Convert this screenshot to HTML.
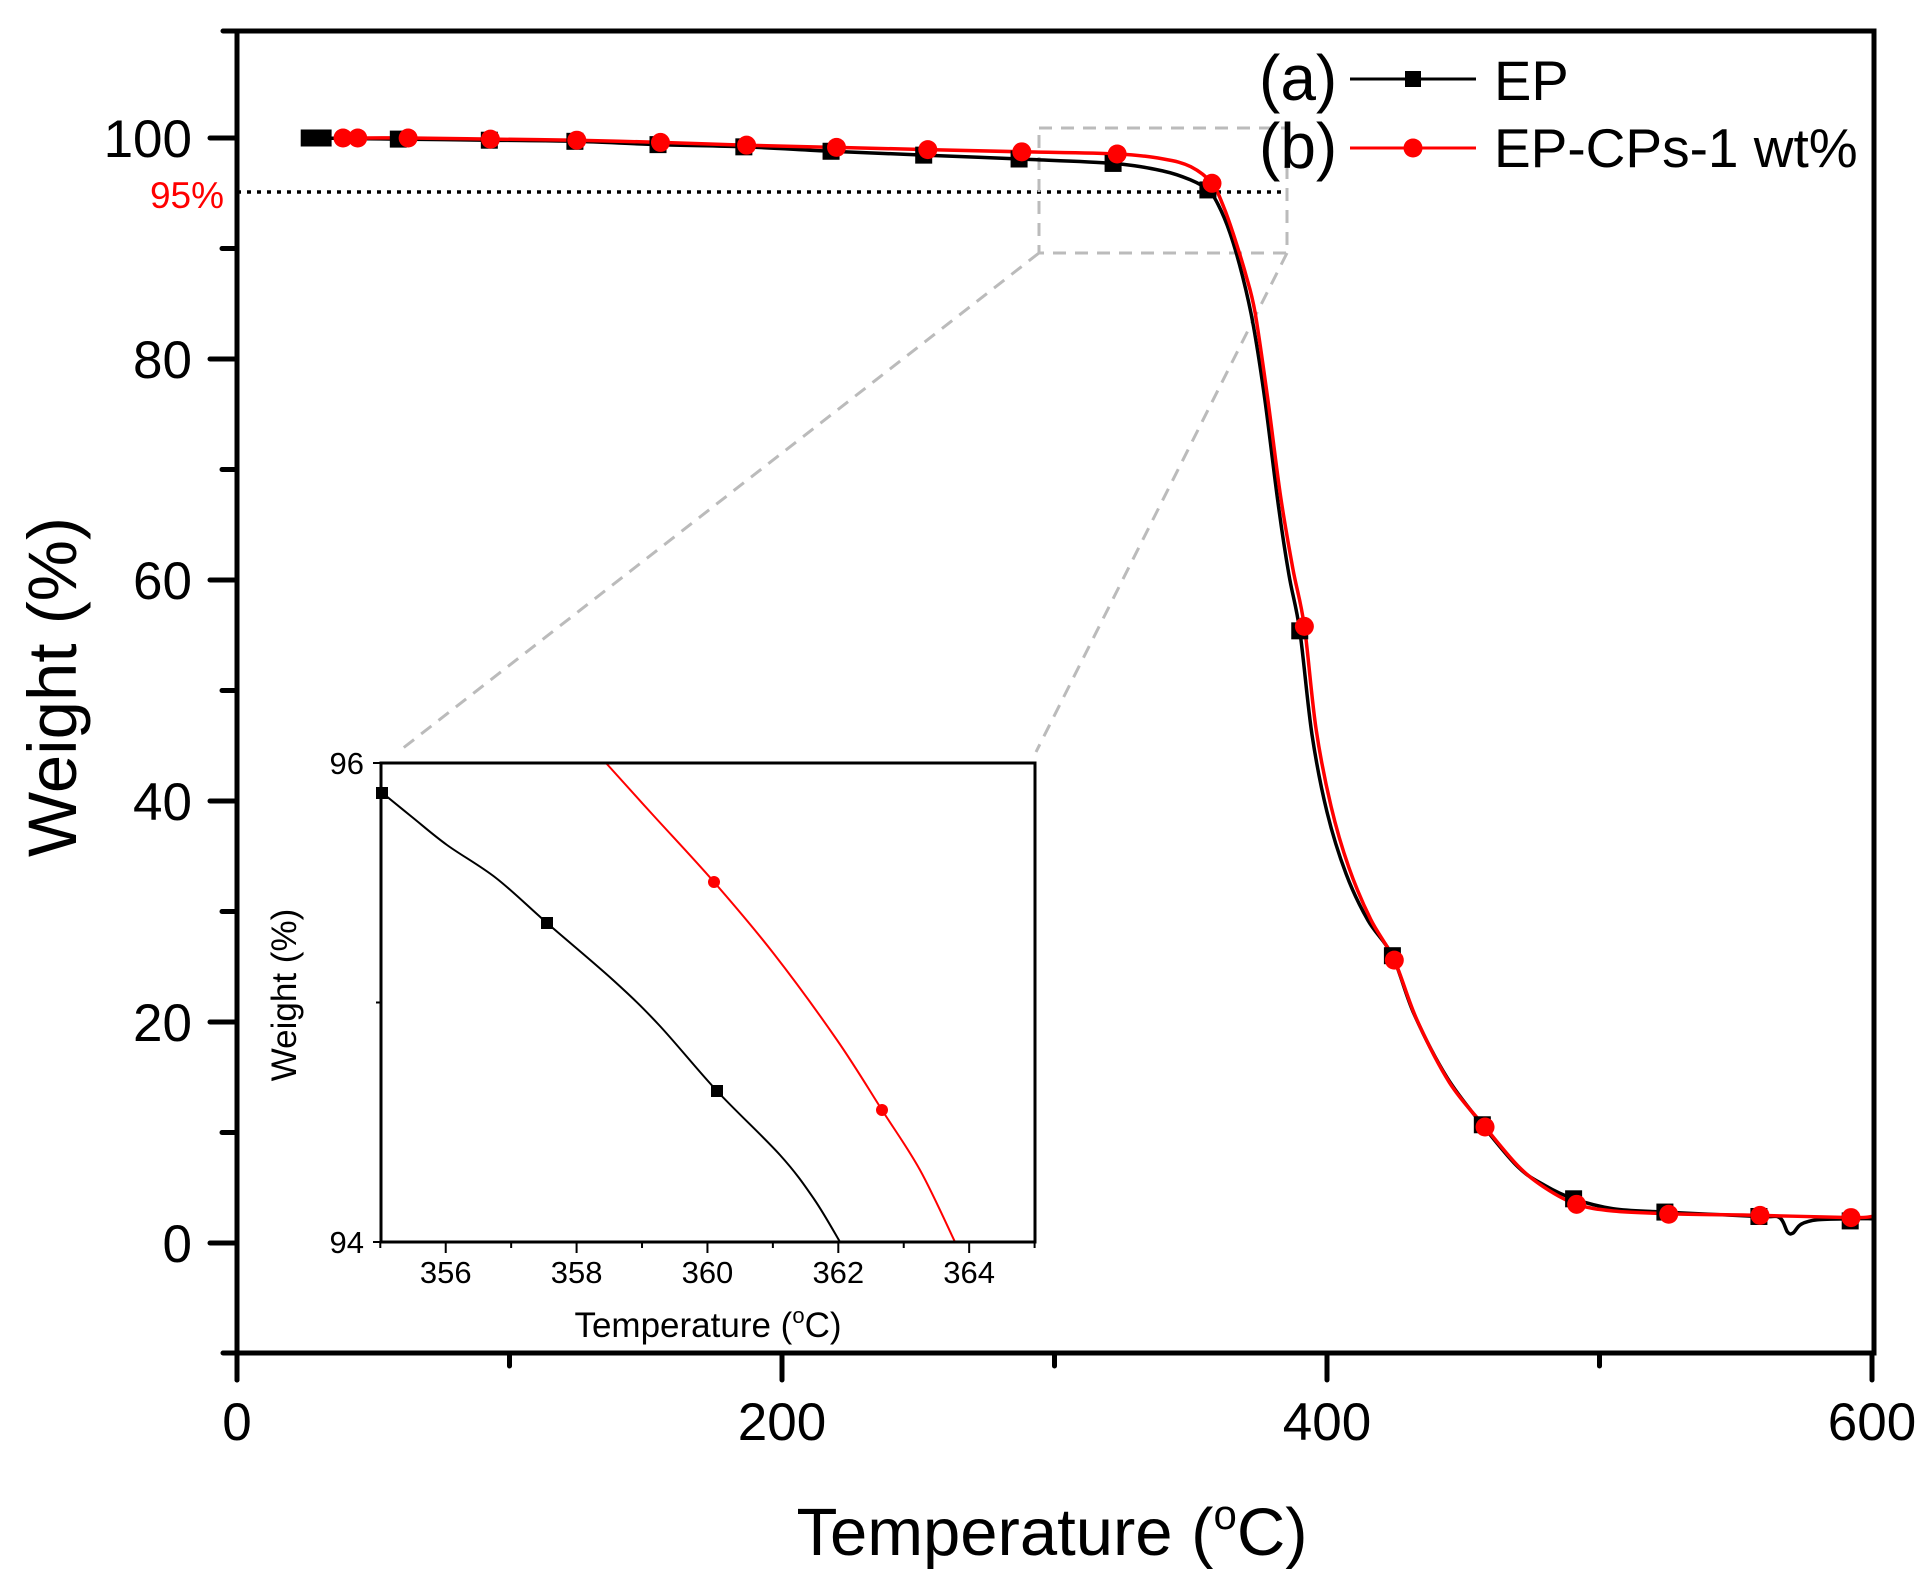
<!DOCTYPE html>
<html><head><meta charset="utf-8"><style>
html,body{margin:0;padding:0;background:#fff;}
svg{display:block;font-family:"Liberation Sans",Arial,sans-serif;}
</style></head><body>
<div style="position:relative;width:1931px;height:1594px;">
<svg id="s" width="1931" height="1594" viewBox="0 0 1931 1594" xmlns="http://www.w3.org/2000/svg" style="position:absolute;left:0;top:0">
<rect width="1931" height="1594" fill="#fff"/>
<g id="main"></g>
<g stroke="#000" stroke-width="5" fill="none" stroke-linecap="round">
<path d="M223 31 H1874 V1353 H223"/>
<path d="M237 31 V1380"/>
</g>
<g id="ticks" stroke="#000" stroke-width="5" stroke-linecap="round"></g>
<g font-size="53" fill="#000" text-anchor="middle">
<text x="237" y="1440">0</text><text x="782" y="1440">200</text><text x="1327" y="1440">400</text><text x="1872" y="1440">600</text>
</g>
<g font-size="53" fill="#000" text-anchor="end">
<text x="192" y="157">100</text><text x="192" y="378">80</text><text x="192" y="599">60</text><text x="192" y="820">40</text><text x="192" y="1041">20</text><text x="192" y="1262">0</text>
</g>
<text x="224" y="208" font-size="37" fill="#f00" text-anchor="end">95%</text>
<text x="1052" y="1555" font-size="67" text-anchor="middle">Temperature (<tspan font-size="42" dy="-26">o</tspan><tspan dy="26">C)</tspan></text>
<text transform="translate(76,687) rotate(-90)" font-size="69" text-anchor="middle">Weight (%)</text>
<text x="1259" y="100" font-size="64">(a)</text>
<text x="1259" y="168" font-size="64">(b)</text>
<line x1="1350" y1="79" x2="1476" y2="79" stroke="#000" stroke-width="3"/>
<rect x="1405" y="71" width="16" height="16" fill="#000"/>
<line x1="1350" y1="148" x2="1476" y2="148" stroke="#f00" stroke-width="3"/>
<circle cx="1413" cy="148" r="9.5" fill="#f00"/>
<text x="1494" y="100" font-size="56">EP</text>
<text x="1494" y="167" font-size="55">EP-CPs-1 wt%</text>
<g id="inset"></g>
<text x="708" y="1337" font-size="35" text-anchor="middle">Temperature (<tspan font-size="22" dy="-14">o</tspan><tspan dy="14">C)</tspan></text>
<text transform="translate(296,995) rotate(-90)" font-size="35" text-anchor="middle">Weight (%)</text>
</svg>
</div>
<script>
(function(){
var NS="http://www.w3.org/2000/svg";
function el(p,tag,a){var e=document.createElementNS(NS,tag);for(var k in a)e.setAttribute(k,a[k]);p.appendChild(e);return e;}
function X(T){return 237+T*2.725;} function Y(W){return 1243-W*11.05;}
function cr(pts){var d="M"+pts[0][0].toFixed(1)+" "+pts[0][1].toFixed(1);
 for(var i=0;i<pts.length-1;i++){var p0=pts[i>0?i-1:0],p1=pts[i],p2=pts[i+1],p3=pts[i+2<pts.length?i+2:i+1];
 var c1x=p1[0]+(p2[0]-p0[0])/6,c1y=p1[1]+(p2[1]-p0[1])/6,c2x=p2[0]-(p3[0]-p1[0])/6,c2y=p2[1]-(p3[1]-p1[1])/6;
 d+=" C"+c1x.toFixed(1)+" "+c1y.toFixed(1)+" "+c2x.toFixed(1)+" "+c2y.toFixed(1)+" "+p2[0].toFixed(1)+" "+p2[1].toFixed(1);}
 return d;}
var main=document.getElementById("main"), ticks=document.getElementById("ticks"), inset=document.getElementById("inset");
el(main,"line",{x1:237,y1:192,x2:1283,y2:192,stroke:"#000","stroke-width":3.5,"stroke-dasharray":"4 6"});
el(main,"rect",{x:1039,y:128,width:248,height:125,fill:"none",stroke:"#bbb","stroke-width":3,"stroke-dasharray":"13 9"});
el(main,"line",{x1:1039,y1:253,x2:398,y2:752,stroke:"#bbb","stroke-width":3,"stroke-dasharray":"13 9"});
el(main,"line",{x1:1287,y1:253,x2:1036,y2:752,stroke:"#bbb","stroke-width":3,"stroke-dasharray":"13 9"});
var bl=[[28,100],[59,99.9],[92.6,99.8],[124,99.7],[154.5,99.4],[186,99.2],[218,98.8],[252,98.45],[287,98.1],[321.5,97.7],[340,97.0],[350,96.2],[356.3,95.3],[360,94.0],[364.4,91.4],[369,87.5],[373,83],[377.2,76.3],[382,67],[386,60.5],[390,55.4],[394.5,46],[400,39],[407,33.4],[415,29.2],[424,26.0],[432,20.7],[444,15],[457,10.7],[470,6.9],[480,5.2],[490.5,4.0],[505,3.1],[524,2.8],[558.5,2.4],[566,2.3],[569,1.0],[571,0.9],[574,1.7],[580,2.1],[592,2.2],[600,2.2]];
var rd=[[39,100],[44,100],[63,100],[93,99.9],[124.7,99.8],[155.4,99.6],[187,99.35],[220,99.15],[253.5,98.95],[288,98.75],[323,98.55],[340,98.1],[350,97.4],[357.8,95.9],[362,93.8],[365.5,91.4],[370,87.8],[373.6,84.2],[378.3,76.3],[383,67.5],[387.5,61],[391.7,55.8],[396,46.5],[401.5,39.5],[408,34],[416,29.3],[424.7,25.6],[433,20.2],[445,14.5],[458,10.5],[470,7],[480,5],[491.6,3.5],[505,2.9],[525.4,2.65],[558.9,2.5],[592.3,2.3],[600,2.4]];
function tr(a){return a.map(function(p){return [X(p[0]),Y(p[1])];});}
el(main,"path",{d:cr(tr(bl)),fill:"none",stroke:"#000","stroke-width":3.5});
el(main,"path",{d:cr(tr(rd)),fill:"none",stroke:"#f00","stroke-width":3.5});
var bm=[[26.5,100],[28.5,100],[31.6,100],[59.2,99.9],[92.6,99.8],[124,99.7],[154.5,99.4],[186,99.2],[218,98.8],[252,98.45],[287,98.1],[321.5,97.7],[356.3,95.3],[390,55.4],[424,26.0],[457,10.7],[490.5,4.0],[524,2.8],[558.5,2.4],[592,2.0]];
bm.forEach(function(p){el(main,"rect",{x:X(p[0])-8.5,y:Y(p[1])-8.5,width:17,height:17,fill:"#000"});});
var rm=[[38.9,100],[44.3,100],[62.8,100],[93,99.9],[124.7,99.8],[155.4,99.6],[187,99.35],[220,99.15],[253.5,98.95],[288,98.75],[323,98.55],[357.8,95.9],[391.7,55.8],[424.7,25.6],[458,10.5],[491.6,3.5],[525.4,2.6],[558.9,2.5],[592.3,2.3]];
rm.forEach(function(p){el(main,"circle",{cx:X(p[0]),cy:Y(p[1]),r:9.5,fill:"#f00"});});
for(var W=-10;W<=110;W+=10){var y=Y(W);if(y<35||y>1350)continue;var maj=(W%20===0);el(ticks,"line",{x1:maj?210:222,y1:y,x2:237,y2:y});}
for(var T=0;T<=600;T+=100){var x=X(T);var maj=(T%200===0);el(ticks,"line",{x1:x,y1:1353,x2:x,y2:maj?1380:1366});}
el(inset,"rect",{x:381,y:763,width:654,height:479,fill:"#fff",stroke:"none"});
var g=el(inset,"g",{});
var bi=[[382.5,793],[412,817],[447,845],[496,878],[547,923],[613,980],[659,1025],[717,1091],[780,1155],[814,1199],[840,1242]];
var ri=[[606,763],[653,815],[714,882],[774,954],[837,1040],[882,1110],[920,1170],[955,1242]];
el(g,"path",{d:cr(bi),fill:"none",stroke:"#000","stroke-width":2});
el(g,"path",{d:cr(ri),fill:"none",stroke:"#f00","stroke-width":2});
[[382,793],[547,923],[717,1091]].forEach(function(p){el(g,"rect",{x:p[0]-6,y:p[1]-6,width:12,height:12,fill:"#000"});});
[[714,882],[882,1110]].forEach(function(p){el(g,"circle",{cx:p[0],cy:p[1],r:6,fill:"#f00"});});
el(inset,"rect",{x:381,y:763,width:654,height:479,fill:"none",stroke:"#000","stroke-width":3});
for(var t=355;t<=365;t++){var x=380.3+(t-355)*65.43;el(inset,"line",{x1:x,y1:1242,x2:x,y2:(t%2===0)?1253:1248,stroke:"#000","stroke-width":2});
 if(t%2===0){var tx=el(inset,"text",{x:x,y:1283,"font-size":31,"text-anchor":"middle"});tx.textContent=t;}}
el(inset,"line",{x1:376,y1:1002.5,x2:381,y2:1002.5,stroke:"#000","stroke-width":2});
el(inset,"line",{x1:373,y1:763,x2:381,y2:763,stroke:"#000","stroke-width":2});
el(inset,"line",{x1:373,y1:1242,x2:381,y2:1242,stroke:"#000","stroke-width":2});
var t1=el(inset,"text",{x:364,y:774,"font-size":31,"text-anchor":"end"});t1.textContent="96";
var t2=el(inset,"text",{x:364,y:1253,"font-size":31,"text-anchor":"end"});t2.textContent="94";
})();
</script>
</body></html>
